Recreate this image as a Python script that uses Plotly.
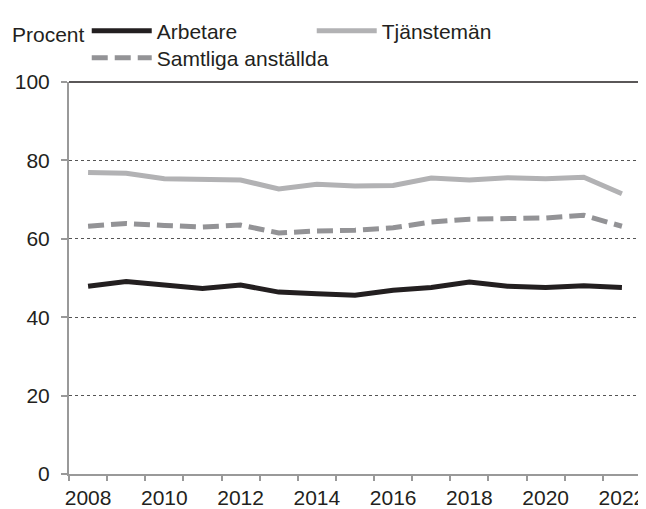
import plotly.graph_objects as go

# ─── Data ─────────────────────────────────────────────────────────────────────
years = list(range(2008, 2023))
label_years = [y for y in years if y % 2 == 0]

arbetare = [47.9, 49.1, 48.2, 47.3, 48.2, 46.4, 46.0, 45.6, 46.9, 47.6, 49.0, 47.9, 47.6, 48.0, 47.6]
tjansteman = [76.9, 76.7, 75.3, 75.0, 75.0, 72.7, 73.9, 73.5, 73.6, 75.5, 75.0, 75.6, 75.3, 75.7, 71.5]
samtliga = [63.2, 63.9, 63.4, 63.0, 63.5, 61.5, 62.0, 62.2, 62.8, 64.3, 65.0, 65.1, 65.3, 66.0, 63.2]

y_ticks = [0, 20, 40, 60, 80, 100]

FONT = "Liberation Sans, Arial, sans-serif"
TEXT = "#231f20"
AXIS = "#999999"

# tick marks sit between the years, labels on the years
boundaries = [y - 0.5 for y in years] + [years[-1] + 0.5]

fig = go.Figure()
fig.add_trace(go.Scatter(
    x=years, y=arbetare, name="Arbetare", mode="lines",
    line=dict(color="#231f20", width=5),
))
fig.add_trace(go.Scatter(
    x=years, y=tjansteman, name="Tjänstemän", mode="lines",
    line=dict(color="#b2b2b4", width=5),
))
fig.add_trace(go.Scatter(
    x=years, y=samtliga, name="Samtliga anställda", mode="lines", legend="legend2",
    line=dict(color="#939396", width=5, dash="16px,7px"),
))

# black frame on top and right, gray axes left and bottom
fig.add_shape(type="line", xref="x domain", yref="y domain", x0=0, x1=1, y0=1, y1=1,
              line=dict(color="#231f20", width=1.5))
fig.add_shape(type="line", xref="x domain", yref="y domain", x0=1, x1=1, y0=0, y1=1,
              line=dict(color="#231f20", width=1.5))

fig.add_annotation(text="Procent", xref="paper", yref="paper", x=-0.104, y=1.12,
                   xanchor="left", yanchor="middle", showarrow=False,
                   font=dict(size=21, color=TEXT, family=FONT))

legend_style = dict(
    orientation="h", xanchor="left", yanchor="top",
    entrywidthmode="pixels", itemwidth=60,
    font=dict(size=21, color=TEXT, family=FONT), bgcolor="rgba(0,0,0,0)",
)

# page body adds an 8px offset, so the figure is 8px smaller than the window
fig.update_layout(
    width=638, height=501,
    paper_bgcolor="white", plot_bgcolor="white",
    font=dict(family=FONT, size=21, color=TEXT),
    margin=dict(l=61, r=5, t=74, b=35, autoexpand=False),
    showlegend=True,
    legend=dict(x=0.031, y=1.182, entrywidth=150, **legend_style),
    legend2=dict(x=0.031, y=1.113, entrywidth=300, **legend_style),
)
fig.update_xaxes(
    range=[years[0] - 0.5, years[-1] + 0.5], tickmode="array", tickvals=label_years,
    ticks="", showline=True, linecolor=AXIS, linewidth=2, showgrid=False, zeroline=False,
    tickangle=0, automargin=False, tickfont=dict(size=21, color=TEXT), ticklabelstandoff=4,
    minor=dict(tickmode="array", tickvals=boundaries, ticks="outside", ticklen=5,
               tickcolor=AXIS, tickwidth=1.5, showgrid=False),
)
fig.update_yaxes(
    range=[0, 100], tickvals=y_ticks, ticks="outside", ticklen=6,
    tickcolor=AXIS, tickwidth=1.5, showline=True, linecolor=AXIS, linewidth=2,
    showgrid=True, gridcolor="#555555", gridwidth=1, griddash="dot",
    zeroline=False, automargin=False, tickfont=dict(size=21, color=TEXT), ticklabelstandoff=7,
)

fig.write_html("out.html")
